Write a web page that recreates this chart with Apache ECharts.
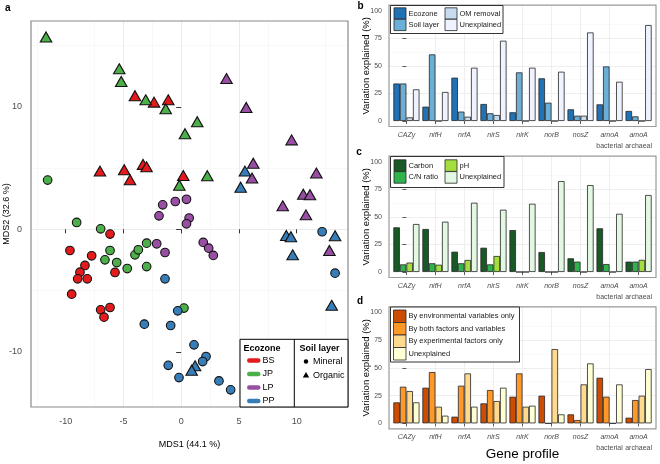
<!DOCTYPE html>
<html><head><meta charset="utf-8">
<script src="https://cdn.jsdelivr.net/npm/echarts@6/dist/echarts.min.js"></script>
<style>html,body{margin:0;padding:0;background:#fff}#c{width:660px;height:464px}</style>
</head><body><div id="c"></div>
<script>
const FONT = '"Liberation Sans", Arial, Helvetica, sans-serif';
const TXT = '#4d4d4d';

// ---------- Panel a: NMDS scores ----------
const bsMineral = [[-6.16,-0.39],[-9.63,-1.73],[-7.75,-2.16],[-8.33,-2.95],[-8.76,-3.5],[-8.96,-4.04],[-8.13,-4.04],[-9.48,-5.29],[-6.97,-6.57],[-6.16,-6.38],[-6.68,-7.17],[-5.73,-3.52]];
const bsOrganic = [[-4.0,10.9],[-2.35,10.38],[-1.12,10.57],[-7.03,4.75],[-4.93,4.86],[-4.43,4.04],[-3.3,5.3],[-3.0,5.1],[0.18,4.39]];
const jpMineral = [[-11.56,4.02],[-9.05,0.56],[-6.97,0.04],[-6.16,-1.73],[-6.6,-2.49],[-5.58,-2.71],[-4.67,-3.2],[-4.0,-2.08],[-3.71,-1.67],[-2.99,-1.13],[-2.99,-3.04],[0.24,-6.43]];
const jpOrganic = [[-11.7,15.7],[-5.36,13.1],[-5.19,12.07],[-3.07,10.57],[-1.34,9.84],[1.39,8.78],[0.33,7.8],[-0.16,3.6],[2.26,4.37]];
const lpMineral = [[-1.6,2.0],[-1.92,1.1],[-0.51,2.27],[0.46,2.45],[0.69,0.92],[0.46,0.45],[-2.12,-1.18],[-1.4,-1.89],[1.91,-1.07],[2.38,-1.54],[2.78,-2.13]];
const lpOrganic = [[3.92,12.3],[5.63,9.94],[9.56,7.3],[6.24,5.4],[6.13,4.18],[11.7,4.59],[10.57,2.87],[11.15,2.82],[8.79,1.92],[10.8,1.18],[12.83,-1.73]];
const ppMineral = [[-1.4,-4.04],[-3.19,-7.74],[-0.91,-7.85],[-0.3,-6.65],[1.11,-9.43],[2.15,-10.38],[1.86,-10.79],[-1.12,-11.1],[-0.19,-12.1],[3.27,-12.37],[4.28,-13.1],[12.2,-0.2],[13.32,-3.58]];
const ppOrganic = [[5.52,4.75],[5.15,3.44],[9.1,-0.5],[9.5,-0.6],[13.32,-0.53],[9.65,-2.08],[13.03,-6.2],[1.2,-11.14],[0.91,-11.5]];
const ecozones = ['BS','JP','LP','PP'];
const soilLayers = ['Mineral','Organic'];
const mdsXTicks = [-10,-5,0,5,10];
const mdsYTicks = [-10,0,10];

// ---------- Panels b-d: variation partitioning ----------
const genes = ['CAZy','nifH','nrfA','nirS','nirK','norB','nosZ','amoA bacterial','amoA archaeal'];
const pctTicks = [0,25,50,75,100];

const bNames = ['Ecozone','Soil layer','OM removal','Unexplained'];
const bEcozone     = [34,13,39.3,15.4,7.9,38.7,10.6,15.1,9.1];
const bSoilLayer   = [34,60.4,8.5,7,44.1,16.6,4.8,49.5,4.2];
const bOMRemoval   = [3.3,0,3.9,5.4,0,0,4.8,0,0];
const bUnexplained = [28.7,26.3,48.3,72.8,48.3,44.7,80.3,35.6,87];

const cNames = ['Carbon','C/N ratio','pH','Unexplained'];
const cCarbon      = [40.5,39,18.4,22,38,18.1,12.4,39.6,9.4];
const cCNRatio     = [6.9,7.9,7.9,6.9,0,0,9.4,7.2,9.4];
const cPH          = [8.5,6.6,10.9,14.5,0,0,0,0,11];
const cUnexplained = [43.5,45.6,62.8,56.5,61.9,82.4,78.8,52.8,69.8];

const dNames = ['By environmental variables only','By both factors and variables','By experimental factors only','Unexplained'];
const dEnvOnly     = [18.9,32.1,6,18,24,24.9,8.1,41.1,5.1];
const dBoth        = [33,46.2,33.9,30,45,0,3,24,21];
const dExpOnly     = [29.1,15,45,20.1,15,66.9,35.1,0,24.9];
const dUnexplained = [18.9,6.9,15,32.1,15.9,8.1,54,35.1,48.9];

// ---------- styling ----------
const ecoColors = ['#E41A1C','#4DAF4A','#984EA3','#377EB8'];
const bColors = ['#2171b5','#6baed6','#c6dbef','#eff3ff'];
const cColors = ['#185a26','#2fb34c','#a3de3c','#e2f8e2'];
const dColors = ['#cc4c02','#fe9929','#fed98e','#ffffd4'];

const grids = [
  {left:31, top:21, width:317, height:386},
  {left:389, top:5.2, width:267, height:121.3},
  {left:389, top:156.2, width:267, height:121.3},
  {left:389, top:306.8, width:267, height:122.1}
];

const chart = echarts.init(document.getElementById('c'), null, {renderer:'canvas', width:660, height:464});

const series = [];
const scatterSets = [[bsMineral,bsOrganic],[jpMineral,jpOrganic],[lpMineral,lpOrganic],[ppMineral,ppOrganic]];
scatterSets.forEach((pair, gi) => {
  pair.forEach((data, li) => {
    series.push({
      type:'scatter', name: ecozones[gi] + ' ' + soilLayers[li], xAxisIndex:0, yAxisIndex:0,
      data: data, symbol: li === 0 ? 'circle' : 'triangle',
      symbolSize: li === 0 ? 8.6 : [11.5, 10],
      itemStyle:{color: ecoColors[gi], borderColor:'#111', borderWidth:1.1, opacity:1},
      silent:true, animation:false, z: 3
    });
  });
});

function addBars(gridIdx, names, valueSets, colors) {
  valueSets.forEach((vals, k) => {
    series.push({
      type:'bar', name: names[k], xAxisIndex: gridIdx, yAxisIndex: gridIdx,
      data: vals.map((v, i) => [i, v]),
      barGap:'0%', barCategoryGap:'10%',
      itemStyle:{color: colors[k], borderColor:'#262626', borderWidth:0.8},
      silent:true, animation:false
    });
  });
}
addBars(1, bNames, [bEcozone,bSoilLayer,bOMRemoval,bUnexplained], bColors);
addBars(2, cNames, [cCarbon,cCNRatio,cPH,cUnexplained], cColors);
addBars(3, dNames, [dEnvOnly,dBoth,dExpOnly,dUnexplained], dColors);

const xAxes = [{
  gridIndex:0, type:'value', min:-13, max:14.44, minInterval:5, maxInterval:5,
  axisLine:{show:false},
  axisTick:{show:true, length:4, customValues: mdsXTicks, lineStyle:{color:'#333', width:1}},
  axisLabel:{customValues: mdsXTicks, fontSize:9, color:TXT, margin:10, fontFamily:FONT},
  splitLine:{show:true, showMinLine:false, showMaxLine:false, lineStyle:{color:'#ebebeb', width:1}},
  minorTick:{show:false, splitNumber:2},
  minorSplitLine:{show:true, lineStyle:{color:'#f5f5f5', width:0.7}}
}];
const yAxes = [{
  gridIndex:0, type:'value', min:-14.5, max:17, minInterval:10, maxInterval:10,
  axisLine:{show:false},
  axisTick:{show:true, length:5, customValues: mdsYTicks, lineStyle:{color:'#333', width:1}},
  axisLabel:{customValues: mdsYTicks, fontSize:9, color:TXT, margin:9, fontFamily:FONT},
  splitLine:{show:true, showMinLine:false, showMaxLine:false, lineStyle:{color:'#ebebeb', width:1}},
  minorTick:{show:false, splitNumber:2},
  minorSplitLine:{show:true, lineStyle:{color:'#f5f5f5', width:0.7}}
}];
const geneIdx = genes.map((g, i) => i);
for (let g = 1; g <= 3; g++) {
  xAxes.push({
    gridIndex:g, type:'value', min:-0.6, max:8.6, minInterval:1, maxInterval:1,
    axisLine:{show:false},
    axisTick:{show:true, length:3, customValues: geneIdx, lineStyle:{color:'#333', width:0.8}},
    axisLabel:{customValues: geneIdx, margin:3, fontFamily:FONT,
      formatter: v => {
        const name = genes[Math.round(v)];
        if (!name) return '';
        const p = name.split(' ');
        return p.length > 1 ? '{i|' + p[0] + '}\n{n|' + p[1] + '}' : '{i|' + name + '}';
      },
      rich:{
        i:{fontStyle:'italic', fontSize:7, color:TXT, lineHeight:11, fontFamily:FONT},
        n:{fontSize:7, color:TXT, lineHeight:11, fontFamily:FONT}
      }
    },
    splitLine:{show:true, showMinLine:false, showMaxLine:false, lineStyle:{color:'#ebebeb', width:0.8}}
  });
  yAxes.push({
    gridIndex:g, type:'value', min:-5, max:105, minInterval:25, maxInterval:25,
    axisLine:{show:false},
    axisTick:{show:true, length:4, customValues: pctTicks, lineStyle:{color:'#333', width:0.8}},
    axisLabel:{customValues: pctTicks, fontSize:7, color:TXT, margin:7, fontFamily:FONT},
    splitLine:{show:true, showMinLine:false, showMaxLine:false, lineStyle:{color:'#ebebeb', width:0.8}},
    minorTick:{show:false, splitNumber:2},
    minorSplitLine:{show:true, lineStyle:{color:'#f4f4f4', width:0.5}}
  });
}

// ---------- graphics: frames, legends, titles ----------
const graphics = [];
function text(x, y, str, o) {
  o = o || {};
  graphics.push({
    type:'text', x:x, y:y, rotation:o.rotation || 0, z:110, silent:true,
    style:{text:str, fontSize:o.size || 9, fontWeight:o.weight || 'normal', fontStyle:o.style || 'normal',
      fontFamily:FONT, fill:o.color || '#000',
      align:o.align || 'left', verticalAlign:'middle', textAlign:o.align || 'left', textVerticalAlign:'middle'}
  });
}
function rect(x, y, w, h, fill, stroke, lw, r) {
  graphics.push({type:'rect', z:105, silent:true, shape:{x:x, y:y, width:w, height:h, r:r || 0},
    style:{fill:fill, stroke:stroke, lineWidth:lw}});
}
// panel frames
grids.forEach((g, i) => {
  rect(g.left, g.top, g.width, g.height, 'none', i === 0 ? '#8a8a8a' : '#9a9a9a', 1.2);
});
// panel letters
text(5, 8, 'a', {weight:'bold', size:10});
text(360.5, 6.5, 'b', {weight:'bold', size:10, align:'center'});
text(359, 152, 'c', {weight:'bold', size:10, align:'center'});
text(360, 301, 'd', {weight:'bold', size:10, align:'center'});
// axis titles
text(189.5, 444.5, 'MDS1 (44.1 %)', {size:9, align:'center'});
text(7, 214, 'MDS2 (32.6 %)', {size:9, align:'center', rotation:Math.PI / 2});
[1,2,3].forEach(i => {
  const g = grids[i];
  text(366.5, g.top + g.height / 2, 'Variation explained (%)', {size:9.5, align:'center', rotation:Math.PI / 2});
});
text(522.5, 454.5, 'Gene profile', {size:13.5, align:'center'});

// panel a legend
rect(240, 339.3, 108, 67.7, '#fff', '#000', 1);
graphics.push({type:'line', z:106, silent:true, shape:{x1:294.3, y1:339.3, x2:294.3, y2:407}, style:{stroke:'#000', lineWidth:1}});
text(243.5, 349, 'Ecozone', {weight:'bold', size:9});
const ecoRows = [360.5, 374, 387.5, 401];
ecozones.forEach((e, i) => {
  rect(247, ecoRows[i] - 2.3, 13.5, 4.6, ecoColors[i], 'none', 0, 2.3);
  text(262.5, ecoRows[i], e, {size:9});
});
text(299.5, 349, 'Soil layer', {weight:'bold', size:9});
graphics.push({type:'circle', z:106, silent:true, shape:{cx:306, cy:361.5, r:2.2}, style:{fill:'#000'}});
graphics.push({type:'polygon', z:106, silent:true, shape:{points:[[306,372],[302.8,377.6],[309.2,377.6]]}, style:{fill:'#000'}});
text(313, 362, soilLayers[0], {size:9});
text(313, 375.5, soilLayers[1], {size:9});

// bar panel legends
function barLegend(box, cols, rows, kw, kh, names, colors) {
  rect(box[0], box[1], box[2], box[3], '#fff', '#333', 1);
  names.forEach((n, k) => {
    const c = Math.floor(k / rows.length), r = k % rows.length;
    rect(cols[c], rows[r], kw, kh, colors[k], '#262626', 0.8);
    text(cols[c] + kw + 2.5, rows[r] + kh / 2, n, {size:7.5, color:'#1a1a1a'});
  });
}
barLegend([390.5, 5.5, 112.5, 28], [394, 445], [7.8, 19.3], 12, 11.3, bNames, bColors);
barLegend([390.5, 156.5, 113.5, 31], [394, 445], [159.8, 171.6], 12, 11.6, cNames, cColors);
barLegend([390.5, 307, 129, 55], [393.5], [310, 322.5, 335, 347.5], 12.5, 12.5, dNames, dColors);

chart.setOption({
  animation:false,
  backgroundColor:'#fff',
  textStyle:{fontFamily:FONT},
  grid: grids.map(g => Object.assign({show:false, containLabel:false}, g)),
  xAxis: xAxes,
  yAxis: yAxes,
  series: series,
  graphic: graphics
});
</script></body></html>
